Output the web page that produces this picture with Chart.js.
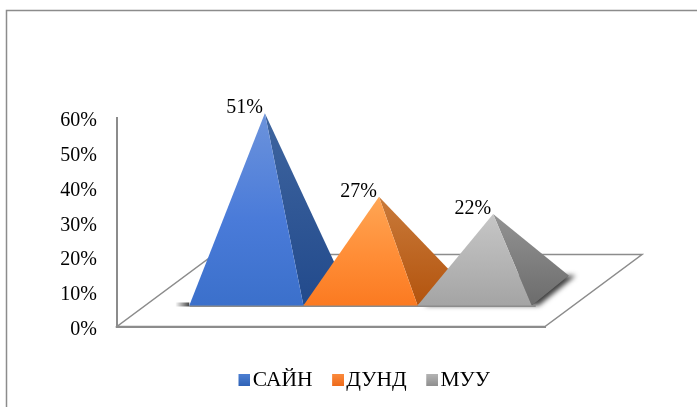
<!DOCTYPE html>
<html>
<head>
<meta charset="utf-8">
<style>
  body { margin: 0; background: #fff; }
  canvas { display: block; }
</style>
<script src="https://cdn.jsdelivr.net/npm/chart.js@4"></script>
</head>
<body>
<canvas id="grafik" width="697" height="407"></canvas>
<script>
// 1. Data
const kategori = ['Үнэлгээ'];
const namaSeri = ['САЙН', 'ДУНД', 'МУУ'];
const nilaiSeri = [51, 27, 22];
const nilaiSumbu = [0, 10, 20, 30, 40, 50, 60];

// warna: depan atas, depan tengah, depan bawah, samping atas, samping bawah
const warnaSeri = [
    ['#6c93dc', '#4a7bd9', '#3b70cb', '#3f659f', '#224a8c'],
    ['#ffa655', '#ff8d36', '#fb7a21', '#c97a3a', '#b3540e'],
    ['#c6c6c6', '#b4b4b4', '#a4a4a4', '#939393', '#6c6c6c']
];
const warnaKotak = [
    ['#4d7fd2', '#2f62b6'],
    ['#fb8a3c', '#ee6a1a'],
    ['#b4b4b4', '#8e8e8e']
];

const warnaGaris = '#8c8c8c';
const geserDepan = { x: 29.5, y: -21 }; // sisi depan piramida di atas lantai
const geserDalam = { x: 37, y: -30 }; // kedalaman alas piramida
const lantaiDalam = { x: 97, y: -72 }; // kedalaman lantai

// 2. Kotak kecil legenda dengan gradasi (sisi kiri kanvas sengaja kosong)
function buatKotak(warna) {
    const kanvas = document.createElement('canvas');
    kanvas.width = 18;
    kanvas.height = 12;
    const ctx = kanvas.getContext('2d');
    const gradasi = ctx.createLinearGradient(0, 0, 0, 12);
    gradasi.addColorStop(0, warna[0]);
    gradasi.addColorStop(1, warna[1]);
    ctx.fillStyle = gradasi;
    ctx.fillRect(6, 0, 12, 12);
    return kanvas;
}
const kotakLegenda = warnaKotak.map(buatKotak);

function poligon(ctx, titik) {
    ctx.beginPath();
    titik.forEach(function(p, i) {
        if (i === 0) ctx.moveTo(p.x, p.y);
        else ctx.lineTo(p.x, p.y);
    });
    ctx.closePath();
}

// 3. Hitung titik piramida dari elemen batang milik Chart.js
function titikPiramida(bar, nol) {
    const kiri = bar.x - bar.width / 2 + geserDepan.x;
    const kanan = bar.x + bar.width / 2 + geserDepan.x;
    const depan = nol + geserDepan.y;
    return {
        kiri: { x: kiri, y: depan },
        kanan: { x: kanan, y: depan },
        belakang: { x: kanan + geserDalam.x, y: depan + geserDalam.y },
        kiriBelakang: { x: kiri + geserDalam.x, y: depan + geserDalam.y },
        puncak: {
            x: bar.x + geserDepan.x + geserDalam.x / 2,
            y: bar.y + geserDepan.y + geserDalam.y / 2
        }
    };
}

// 4. Plugin yang menggambar bingkai, lantai dan piramida
const pluginPiramida = {
    id: 'piramida',
    beforeDraw: function(chart) {
        const ctx = chart.ctx;
        const area = chart.chartArea;
        ctx.save();
        ctx.fillStyle = '#fff';
        ctx.fillRect(0, 0, chart.width, chart.height);

        // bingkai atas dan kiri
        ctx.strokeStyle = warnaGaris;
        ctx.lineWidth = 1.5;
        ctx.beginPath();
        ctx.moveTo(6.5, chart.height);
        ctx.lineTo(6.5, 10.5);
        ctx.lineTo(chart.width, 10.5);
        ctx.stroke();

        // lantai
        poligon(ctx, [
            { x: area.left, y: area.bottom },
            { x: area.right, y: area.bottom },
            { x: area.right + lantaiDalam.x, y: area.bottom + lantaiDalam.y },
            { x: area.left + lantaiDalam.x, y: area.bottom + lantaiDalam.y }
        ]);
        ctx.strokeStyle = warnaGaris;
        ctx.lineWidth = 1.5;
        ctx.stroke();
        ctx.restore();
    },
    beforeDatasetDraw: function() {
        return false; // batang biasa tidak digambar
    },
    afterDatasetsDraw: function(chart) {
        const ctx = chart.ctx;
        const nol = chart.scales.y.getPixelForValue(0);
        const semua = namaSeri.map(function(nama, i) {
            return titikPiramida(chart.getDatasetMeta(i).data[0], nol);
        });
        const awal = semua[0];
        const akhir = semua[semua.length - 1];

        // bayangan di lantai
        ctx.save();
        ctx.shadowColor = 'rgba(0,0,0,0.75)';
        ctx.shadowBlur = 5;
        ctx.shadowOffsetX = 7;
        ctx.fillStyle = '#555';
        poligon(ctx, [akhir.kiri, akhir.kanan, akhir.belakang, akhir.kiriBelakang]);
        ctx.fill();
        ctx.restore();

        ctx.save();
        const bayangKiri = ctx.createLinearGradient(awal.kiri.x - 14, 0, awal.kiri.x, 0);
        bayangKiri.addColorStop(0, 'rgba(60,60,60,0)');
        bayangKiri.addColorStop(1, 'rgba(60,60,60,0.95)');
        ctx.fillStyle = bayangKiri;
        ctx.fillRect(awal.kiri.x - 14, awal.kiri.y - 3, 14, 4);
        ctx.strokeStyle = warnaGaris;
        ctx.lineWidth = 2;
        ctx.beginPath();
        ctx.moveTo(awal.kiri.x, awal.kiri.y + 0.5);
        ctx.lineTo(akhir.kanan.x + 4, akhir.kanan.y + 0.5);
        ctx.stroke();
        ctx.restore();

        // piramida: seri berikutnya menutupi seri sebelumnya
        semua.forEach(function(t, i) {
            const warna = warnaSeri[i];
            ctx.save();

            const gradasiSamping = ctx.createLinearGradient(0, t.puncak.y, 0, t.kanan.y);
            gradasiSamping.addColorStop(0, warna[3]);
            gradasiSamping.addColorStop(1, warna[4]);
            poligon(ctx, [t.puncak, t.kanan, t.belakang]);
            ctx.fillStyle = gradasiSamping;
            ctx.fill();

            const gradasiDepan = ctx.createLinearGradient(0, t.puncak.y, 0, t.kanan.y);
            gradasiDepan.addColorStop(0, warna[0]);
            gradasiDepan.addColorStop(0.55, warna[1]);
            gradasiDepan.addColorStop(1, warna[2]);
            poligon(ctx, [t.puncak, t.kiri, t.kanan]);
            ctx.fillStyle = gradasiDepan;
            ctx.fill();
            ctx.restore();

            // label persen di kiri puncak
            ctx.save();
            ctx.fillStyle = '#000';
            ctx.font = '20px "Liberation Serif"';
            ctx.textAlign = 'right';
            ctx.textBaseline = 'alphabetic';
            ctx.fillText(nilaiSeri[i] + '%', t.puncak.x - 2, t.puncak.y);
            ctx.restore();
        });
    }
};

// 5. Grafik batang Chart.js: satu kategori, tiga seri tanpa jarak
const dataSeri = namaSeri.map(function(nama, i) {
    return {
        label: nama,
        data: [nilaiSeri[i]],
        backgroundColor: warnaSeri[i][1],
        categoryPercentage: 0.8,
        barPercentage: 1
    };
});

new Chart(document.getElementById('grafik').getContext('2d'), {
    type: 'bar',
    data: { labels: kategori, datasets: dataSeri },
    plugins: [pluginPiramida],
    options: {
        responsive: false,
        animation: false,
        layout: { padding: { left: 34, right: 0, top: 118, bottom: 6 } },
        plugins: {
            tooltip: { enabled: false },
            legend: {
                position: 'bottom',
                labels: {
                    font: { family: '"Liberation Serif"', size: 21.5 },
                    color: '#000',
                    usePointStyle: true,
                    boxWidth: 1,
                    padding: 22,
                    generateLabels: function(chart) {
                        const isi = Chart.defaults.plugins.legend.labels.generateLabels(chart);
                        isi.forEach(function(item, i) {
                            item.pointStyle = kotakLegenda[i];
                        });
                        return isi;
                    }
                }
            }
        },
        scales: {
            x: {
                grid: { display: false, drawTicks: false },
                border: { color: warnaGaris, width: 2 },
                ticks: { display: false },
                afterFit: function(skala) { skala.height = 21; }
            },
            y: {
                min: 0,
                max: 60,
                afterBuildTicks: function(skala) {
                    skala.ticks = nilaiSumbu.map(function(v) { return { value: v }; });
                },
                grid: { display: false, drawTicks: false },
                border: { color: warnaGaris, width: 2 },
                ticks: {
                    padding: 20,
                    labelOffset: 3,
                    color: '#000',
                    font: { family: '"Liberation Serif"', size: 20 },
                    callback: function(v) { return v + '%'; }
                },
                afterFit: function(skala) { skala.width = 83; }
            },
            // ruang kosong di kanan untuk kedalaman lantai
            ruangKanan: {
                type: 'linear',
                position: 'right',
                grid: { display: false, drawTicks: false },
                border: { display: false },
                ticks: { display: false },
                afterFit: function(skala) { skala.width = 152; }
            }
        }
    }
});
</script>
</body>
</html>
